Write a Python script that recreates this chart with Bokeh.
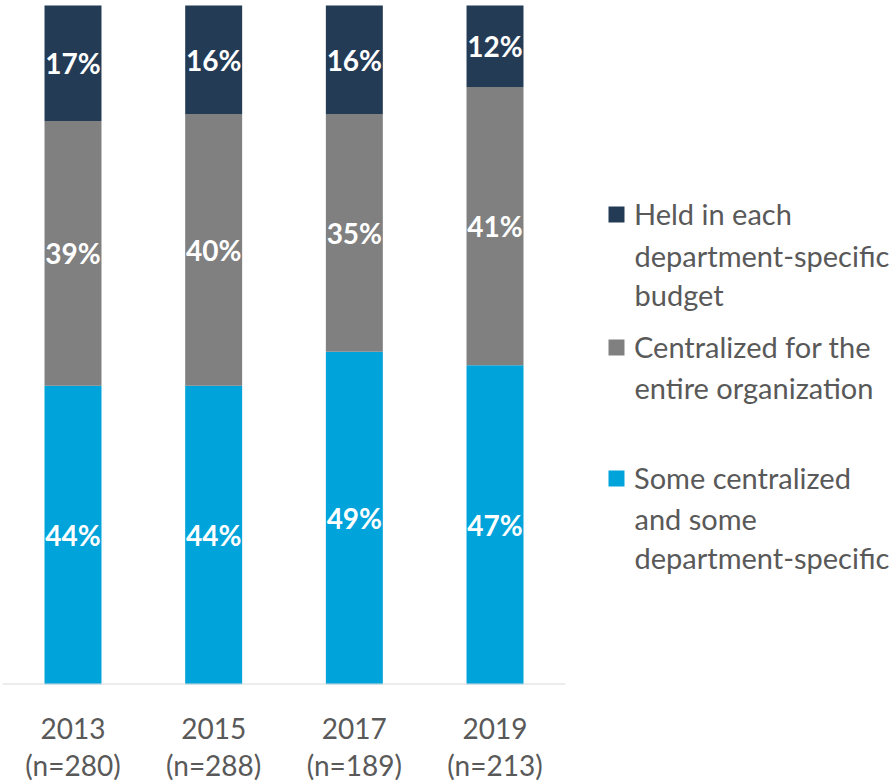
from bokeh.plotting import figure
from bokeh.models import (ColumnDataSource, Legend, LegendItem, Range1d,
                          FixedTicker, Label)
from bokeh.core.properties import value
from bokeh.embed import file_html
from bokeh.resources import INLINE

# ---- data ----
years = ["2013", "2015", "2017", "2019"]
sample_sizes = ["(n=280)", "(n=288)", "(n=189)", "(n=213)"]
some_centralized = [44, 44, 49, 47]
centralized_org = [39, 40, 35, 41]
held_department = [17, 16, 16, 12]
series_lines = [
    ["Some centralized", "and some", "department-specific"],
    ["Centralized for the", "entire organization"],
    ["Held in each", "department-specific", "budget"],
]
colors = ["#00A3DA", "#808080", "#243B56"]

FONT = "Lato"
GREY_TXT = "#595959"

# ---- layout (pixels) ----
W, H = 896, 784
BASE = 689          # pixel row of the baseline
TOP = 5             # pixel row of 100 %
STEP = 140.67       # pixels per category
X0 = 72.5           # pixel column of the first category centre
LEG_X = 606         # legend key box left edge (drawn square is inset)
LEG_GLYPH = 20
LEG_TXT_X = 634     # legend text left edge
LEG_LINES = [[483, 522, 561], [352, 390], [219, 257, 296]]  # line centres

idx = list(range(len(years)))
src = ColumnDataSource(dict(
    x=idx,
    s1=some_centralized,
    s2=centralized_org,
    s3=held_department,
))

x_start = -X0 / STEP
x_end = x_start + W / STEP
y_end = 100 * BASE / (BASE - TOP)


def px_x(px):
    return x_start + px / STEP


def px_y(py):
    return (BASE - py) * y_end / BASE


p = figure(
    x_range=Range1d(x_start, x_end), y_range=Range1d(0, y_end),
    width=W, height=H,
    output_backend="svg", toolbar_location=None,
    min_border_left=0, min_border_top=0, min_border_right=0,
    min_border_bottom=H - BASE,
)
p.outline_line_color = None
p.xgrid.visible = False
p.ygrid.visible = False
p.yaxis.visible = False

renderers = p.vbar_stack(
    ["s1", "s2", "s3"], x="x", width=0.405, color=colors,
    line_color=None, source=src,
)

# baseline across the category band
p.segment(x0=[-0.5], x1=[len(years) - 0.5], y0=[0], y1=[0],
          line_color="#D9D9D9", line_width=2)

# segment labels
lab_x, lab_y, lab_t = [], [], []
for i in idx:
    a, b, c = some_centralized[i], centralized_org[i], held_department[i]
    for base, v in ((0, a), (a, b), (a + b, c)):
        lab_x.append(i)
        lab_y.append(base + v / 2)
        lab_t.append(f"{v}%")
lsrc = ColumnDataSource(dict(x=lab_x, y=lab_y, t=lab_t))
p.text(x="x", y="y", text="t", source=lsrc, text_align="center",
       text_baseline="middle", text_color="white",
       text_font=value(FONT), text_font_style="bold", text_font_size="28px")

# axis
ax = p.xaxis[0]
ax.ticker = FixedTicker(ticks=idx)
ax.major_label_overrides = {i: f"{y}\n{n}" for i, y, n in zip(idx, years, sample_sizes)}
ax.major_label_text_font = FONT
ax.major_label_text_font_size = "28px"
ax.major_label_text_color = GREY_TXT
ax.major_label_text_line_height = 1.1
ax.major_label_standoff = 20
ax.major_tick_line_color = None
ax.minor_tick_line_color = None
ax.axis_line_color = None

# legend: key + first line from a Legend, further lines as labels
LEG_FS = 29
item_half = 0.6 * LEG_FS
for i in (2, 1, 0):
    lines = series_lines[i]
    first = LEG_LINES[i][0]
    lg = Legend(items=[LegendItem(label=lines[0], renderers=[renderers[i]])],
                location=(LEG_X, BASE - first - item_half),
                label_text_font=FONT, label_text_font_size=f"{LEG_FS}px",
                label_text_color=GREY_TXT,
                glyph_width=LEG_GLYPH, glyph_height=LEG_GLYPH,
                label_standoff=LEG_TXT_X - LEG_X - LEG_GLYPH,
                padding=0, margin=0, spacing=0,
                border_line_color=None, background_fill_alpha=0)
    p.add_layout(lg, "center")
    for txt, py in zip(lines[1:], LEG_LINES[i][1:]):
        p.add_layout(Label(x=px_x(LEG_TXT_X), y=px_y(py), text=txt,
                           text_font=FONT, text_font_size=f"{LEG_FS}px",
                           text_color=GREY_TXT, text_baseline="middle",
                           text_align="left"))

open("out.html", "w").write(file_html(p, INLINE))
